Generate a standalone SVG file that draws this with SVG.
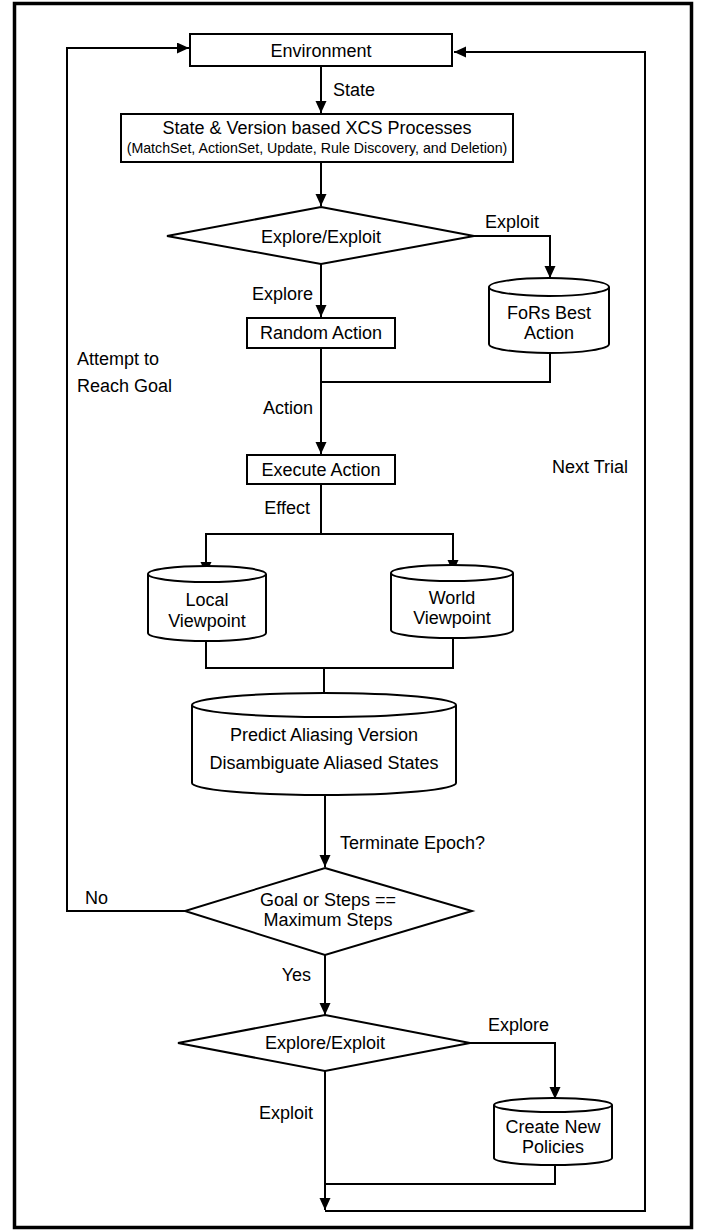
<svg xmlns="http://www.w3.org/2000/svg" width="709" height="1230" viewBox="0 0 709 1230">
<defs>
<marker id="ah" markerUnits="userSpaceOnUse" markerWidth="13" markerHeight="12" refX="12" refY="5.5" orient="auto">
<path d="M0,0 L12,5.5 L0,11 Z" fill="#000"/>
</marker>
<style>
text{font-family:"Liberation Sans",Arial,sans-serif;font-size:18px;fill:#000}
.sm{font-size:14.2px}
.mid{text-anchor:middle}
.end{text-anchor:end}
.shape{fill:#fff;stroke:#000;stroke-width:2}
.conn{fill:none;stroke:#000;stroke-width:2}
.arr{marker-end:url(#ah)}
</style>
</defs>
<rect x="14.5" y="3.5" width="677" height="1224" fill="#fff" stroke="#000" stroke-width="3.5"/>

<g id="connectors">
<path class="conn arr" d="M185,911 H67 V48 H189"/>
<path class="conn arr" d="M325,1071 V1210"/>
<path class="conn arr" d="M325,1211 H645 V52 H454"/>
<path class="conn arr" d="M321,66 V113"/>
<path class="conn arr" d="M321,162 V206"/>
<path class="conn arr" d="M474,236 H550 V278"/>
<path class="conn arr" d="M321,264 V317"/>
<path class="conn arr" d="M321,348 V454"/>
<path class="conn" d="M550,353 V382 H321"/>
<path class="conn" d="M321,484 V534"/>
<path class="conn" d="M206,534 H453"/>
<path class="conn arr" d="M206,533 V574"/>
<path class="conn arr" d="M453,533 V572"/>
<path class="conn" d="M206,641 V668 H453 V638"/>
<path class="conn arr" d="M324,668 V705"/>
<path class="conn arr" d="M325,795 V867"/>
<path class="conn arr" d="M325,955 V1015"/>
<path class="conn arr" d="M470,1043 H555 V1099"/>
<path class="conn" d="M555,1165 V1184 H325"/>
</g>

<g id="labels">
<text x="333" y="96">State</text>
<text x="485" y="228">Exploit</text>
<text class="end" x="313" y="300">Explore</text>
<text x="77" y="365">Attempt to</text>
<text x="77" y="392">Reach Goal</text>
<text class="end" x="313" y="414">Action</text>
<text x="552" y="473">Next Trial</text>
<text class="end" x="310" y="514">Effect</text>
<text x="340" y="849">Terminate Epoch?</text>
<text x="85" y="904">No</text>
<text class="end" x="311" y="981">Yes</text>
<text x="488" y="1031">Explore</text>
<text class="end" x="313" y="1119">Exploit</text>
</g>

<g id="environment">
<rect class="shape" x="190" y="34" width="262" height="32"/>
<text class="mid" x="321" y="57">Environment</text>
</g>

<g id="xcs">
<rect class="shape" x="121" y="114" width="392" height="48"/>
<text class="mid" x="317" y="134">State &amp; Version based XCS Processes</text>
<text class="mid sm" x="317" y="153">(MatchSet, ActionSet, Update, Rule Discovery, and Deletion)</text>
</g>

<g id="decision1">
<polygon class="shape" points="321,207 474,236 321,264 167,236"/>
<text class="mid" x="321" y="243">Explore/Exploit</text>
</g>

<g id="fors">
<path class="shape" d="M489,287 A60,9 0 0 1 609,287 V344 A60,9 0 0 1 489,344 Z"/>
<path class="conn" d="M489,287 A60,9 0 0 0 609,287"/>
<text class="mid" x="549" y="319">FoRs Best</text>
<text class="mid" x="549" y="339">Action</text>
</g>

<g id="random">
<rect class="shape" x="247" y="318" width="148" height="30"/>
<text class="mid" x="321" y="339">Random Action</text>
</g>

<g id="execute">
<rect class="shape" x="247" y="455" width="148" height="29"/>
<text class="mid" x="321" y="476">Execute Action</text>
</g>

<g id="local">
<path class="shape" d="M148,574 A59,8 0 0 1 266,574 V633 A59,8 0 0 1 148,633 Z"/>
<path class="conn" d="M148,574 A59,8 0 0 0 266,574"/>
<text class="mid" x="207" y="606">Local</text>
<text class="mid" x="207" y="627">Viewpoint</text>
</g>

<g id="world">
<path class="shape" d="M391,573 A61,8 0 0 1 513,573 V630 A61,8 0 0 1 391,630 Z"/>
<path class="conn" d="M391,573 A61,8 0 0 0 513,573"/>
<text class="mid" x="452" y="604">World</text>
<text class="mid" x="452" y="624">Viewpoint</text>
</g>

<g id="predict">
<path class="shape" d="M192,705 A132,12 0 0 1 456,705 V783 A132,12 0 0 1 192,783 Z"/>
<path class="conn" d="M192,705 A132,12 0 0 0 456,705"/>
<text class="mid" x="324" y="741">Predict Aliasing Version</text>
<text class="mid" x="324" y="769">Disambiguate Aliased States</text>
</g>

<g id="decision2">
<polygon class="shape" points="325,868 472,911 325,955 185,911"/>
<text class="mid" x="328" y="906">Goal or Steps ==</text>
<text class="mid" x="328" y="926">Maximum Steps</text>
</g>

<g id="decision3">
<polygon class="shape" points="325,1015 470,1043 325,1071 178,1043"/>
<text class="mid" x="325" y="1049">Explore/Exploit</text>
</g>

<g id="create">
<path class="shape" d="M494,1105 A59,7 0 0 1 612,1105 V1158 A59,7 0 0 1 494,1158 Z"/>
<path class="conn" d="M494,1105 A59,7 0 0 0 612,1105"/>
<text class="mid" x="553" y="1133">Create New</text>
<text class="mid" x="553" y="1153">Policies</text>
</g>
</svg>
